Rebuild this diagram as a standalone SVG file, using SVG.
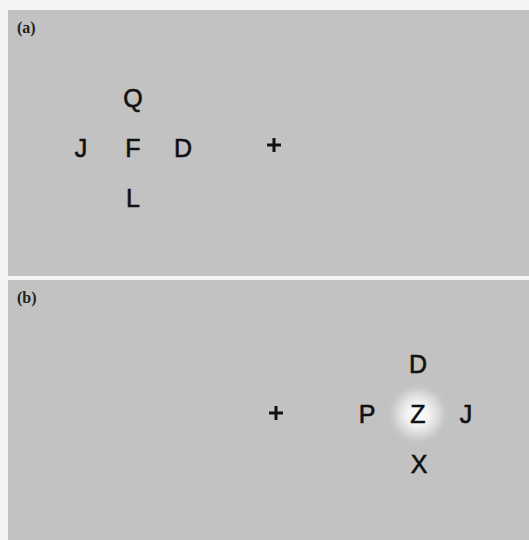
<svg xmlns="http://www.w3.org/2000/svg" width="529" height="540" viewBox="0 0 529 540">
  <defs>
    <radialGradient id="glow" cx="0.5" cy="0.5" r="0.5">
      <stop offset="0" stop-color="#ffffff" stop-opacity="1"/>
      <stop offset="0.35" stop-color="#ffffff" stop-opacity="0.8"/>
      <stop offset="0.7" stop-color="#ffffff" stop-opacity="0.3"/>
      <stop offset="1" stop-color="#c2c2c2" stop-opacity="0"/>
    </radialGradient>
  </defs>
  <style>
    .panel { fill: #c2c2c2; }
    .tag { font-family: "Liberation Serif", "Times New Roman", serif; font-weight: bold; font-size: 16px; fill: #222; }
    .ltr { font-family: "Liberation Sans", Arial, sans-serif; font-size: 25px; fill: #111; stroke: #111; stroke-width: 0.6; text-anchor: middle; }
    .fix { stroke: #111; stroke-width: 3; fill: none; }
  </style>

  <rect width="529" height="540" fill="#f4f4f4"/>

  <!-- Panel (a): crowded target left of fixation -->
  <g id="panel-a">
    <rect class="panel" x="8" y="10" width="521" height="266"/>
    <text class="tag" x="17" y="33">(a)</text>
    <g id="a-letters">
      <text class="ltr" x="133" y="107">Q</text>
      <text class="ltr" x="81" y="157">J</text>
      <text class="ltr" x="133" y="157">F</text>
      <text class="ltr" x="183" y="157">D</text>
      <text class="ltr" x="133" y="207">L</text>
    </g>
    <g id="a-fixation">
      <path class="fix" d="M267 145 H281 M274 138 V152"/>
    </g>
  </g>

  <!-- Panel (b): crowded target right of fixation, target highlighted -->
  <g id="panel-b">
    <rect class="panel" x="8" y="280" width="521" height="260"/>
    <text class="tag" x="17" y="303">(b)</text>
    <circle cx="418" cy="414" r="32" fill="url(#glow)"/>
    <g id="b-letters">
      <text class="ltr" x="418" y="373">D</text>
      <text class="ltr" x="367" y="423">P</text>
      <text class="ltr" x="418" y="423">Z</text>
      <text class="ltr" x="466" y="423">J</text>
      <text class="ltr" x="419" y="473">X</text>
    </g>
    <g id="b-fixation">
      <path class="fix" d="M269 413 H283 M276 406 V420"/>
    </g>
  </g>
</svg>
